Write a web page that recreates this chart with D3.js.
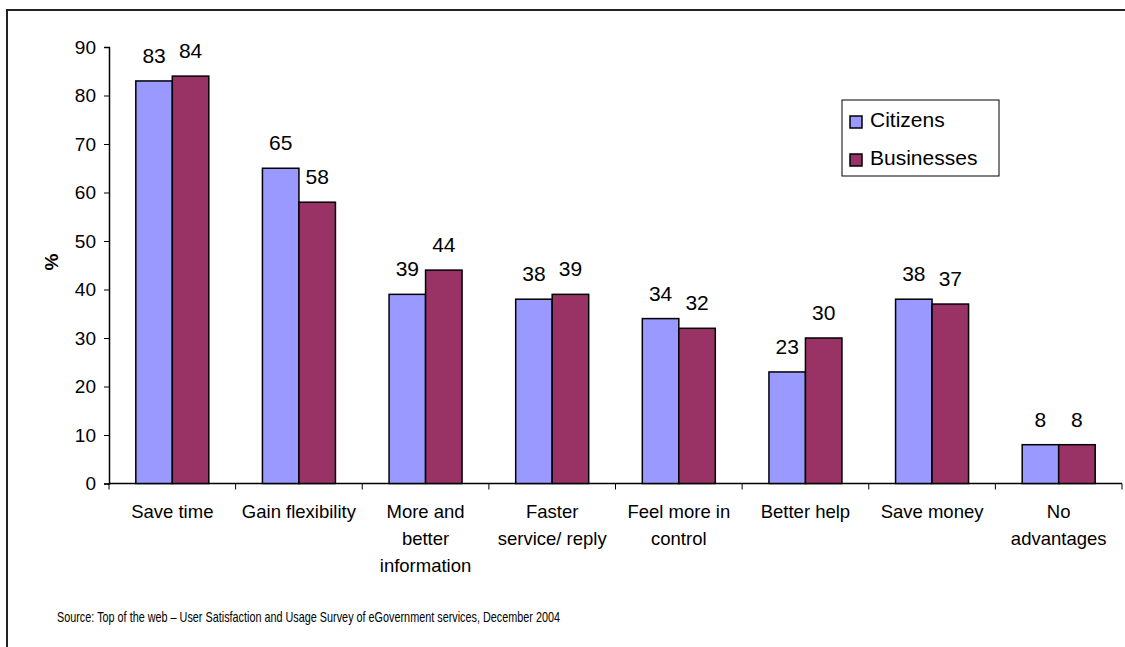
<!DOCTYPE html>
<html>
<head>
<meta charset="utf-8">
<script src="https://cdn.jsdelivr.net/npm/d3@7"></script>
<style>
  html, body { margin: 0; padding: 0; background: #fff; }
  svg { display: block; font-family: "Liberation Sans", Arial, sans-serif; }
</style>
</head>
<body>
<svg id="chart" width="1125" height="647"></svg>
<script>
// Perceived advantages of eGovernment services (% of respondents)
const categories = [
  ["Save time"],
  ["Gain flexibility"],
  ["More and", "better", "information"],
  ["Faster", "service/ reply"],
  ["Feel more in", "control"],
  ["Better help"],
  ["Save money"],
  ["No", "advantages"]
];
const seriesNames = ["Citizens", "Businesses"];
const citizens   = [83, 65, 39, 38, 34, 23, 38, 8];
const businesses = [84, 58, 44, 39, 32, 30, 37, 8];
const yTicks = [0, 10, 20, 30, 40, 50, 60, 70, 80, 90];
const sourceNote = "Source: Top of the web \u2013 User Satisfaction and Usage Survey of eGovernment services, December 2004";

const colors = ["#9999FF", "#993366"];
const seriesValues = [citizens, businesses];

const svg = d3.select("#chart");

// Outer frame
svg.append("rect")
  .attr("x", 7).attr("y", 10)
  .attr("width", 1140).attr("height", 660)
  .attr("fill", "none").attr("stroke", "#222").attr("stroke-width", 2);

const x0 = d3.scaleBand().domain(d3.range(categories.length)).range([109, 1122]).padding(0);
const groupW = 73;
const x1 = d3.scaleBand().domain(seriesNames).range([0, groupW]).padding(0);
const y = d3.scaleLinear().domain([0, 90]).range([483.5, 47]);

// Y axis
const yAxis = svg.append("g")
  .attr("transform", "translate(109,0)")
  .call(d3.axisLeft(y).tickValues(yTicks).tickSize(5).tickPadding(8));
yAxis.select(".domain").attr("stroke", "#000").attr("stroke-width", 1.5);
yAxis.selectAll(".tick line").attr("stroke", "#000");
yAxis.selectAll("text").attr("font-size", 19).attr("fill", "#000")
  .attr("font-family", "Liberation Sans, Arial, sans-serif");

// "%" axis title
svg.append("text")
  .attr("transform", "translate(51,262) rotate(-90)")
  .attr("text-anchor", "middle")
  .attr("dominant-baseline", "central")
  .attr("font-size", 19).attr("font-weight", "bold")
  .text("%");

// X axis line and category separators
const xAxisG = svg.append("g");
xAxisG.append("line")
  .attr("x1", 109).attr("x2", 1122)
  .attr("y1", y(0)).attr("y2", y(0))
  .attr("stroke", "#000").attr("stroke-width", 1.5);
const boundaries = d3.range(categories.length + 1).map(i => i < categories.length ? x0(i) : x0(i - 1) + x0.bandwidth());
xAxisG.selectAll("line.sep").data(boundaries).join("line")
  .attr("class", "sep")
  .attr("x1", d => d).attr("x2", d => d)
  .attr("y1", y(0)).attr("y2", y(0) + 6)
  .attr("stroke", "#000").attr("stroke-width", 1);

// Category labels
const catG = svg.append("g");
categories.forEach((lines, i) => {
  const cx = x0(i) + x0.bandwidth() / 2;
  const t = catG.append("text")
    .attr("text-anchor", "middle")
    .attr("font-size", 18.5)
    .attr("fill", "#000");
  lines.forEach((ln, j) => {
    t.append("tspan").attr("x", cx).attr("y", 518 + j * 27).text(ln);
  });
});

// Bars
const offset = (x0.bandwidth() - groupW) / 2;
const barsG = svg.append("g");
seriesNames.forEach((name, s) => {
  barsG.selectAll(null).data(seriesValues[s]).join("rect")
    .attr("x", (d, i) => x0(i) + offset + x1(name))
    .attr("y", d => y(d))
    .attr("width", x1.bandwidth())
    .attr("height", d => y(0) - y(d))
    .attr("fill", colors[s])
    .attr("stroke", "#000").attr("stroke-width", 1.5);
});

// Value labels
seriesNames.forEach((name, s) => {
  svg.append("g").selectAll("text").data(seriesValues[s]).join("text")
    .attr("x", (d, i) => x0(i) + offset + x1(name) + x1.bandwidth() / 2)
    .attr("y", d => y(d) - 18)
    .attr("text-anchor", "middle")
    .attr("font-size", 21)
    .attr("fill", "#000")
    .text(d => d);
});

// Legend
const legend = svg.append("g");
legend.append("rect")
  .attr("x", 842).attr("y", 100).attr("width", 157).attr("height", 76)
  .attr("fill", "#fff").attr("stroke", "#000").attr("stroke-width", 1);
seriesNames.forEach((name, s) => {
  legend.append("rect")
    .attr("x", 850).attr("y", 116 + s * 38).attr("width", 12).attr("height", 12)
    .attr("fill", colors[s]).attr("stroke", "#000").attr("stroke-width", 1.5);
  legend.append("text")
    .attr("x", 870).attr("y", 127 + s * 38)
    .attr("font-size", 21).attr("fill", "#000")
    .text(name);
});

// Source note
svg.append("text")
  .attr("x", 57).attr("y", 622)
  .attr("font-size", 15).attr("fill", "#000")
  .attr("textLength", 503).attr("lengthAdjust", "spacingAndGlyphs")
  .text(sourceNote);
</script>
</body>
</html>
